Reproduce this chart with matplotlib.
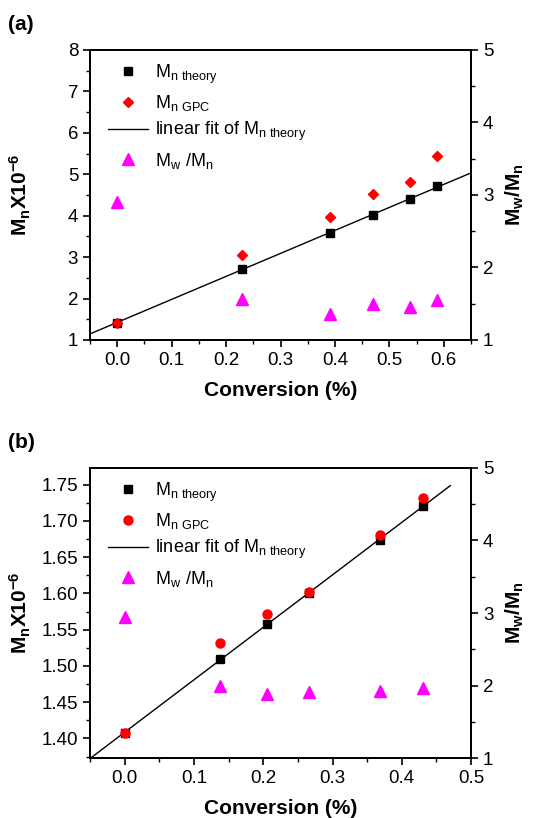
#!/usr/bin/env python3
"""Mn / PDI vs conversion, two panels (a) and (b)."""

import matplotlib
matplotlib.use("Agg")
import matplotlib.pyplot as plt
import numpy as np
from matplotlib.ticker import MultipleLocator

plt.rcParams["font.family"] = ["Liberation Sans", "DejaVu Sans"]
plt.rcParams["mathtext.fontset"] = "custom"
plt.rcParams["mathtext.rm"] = "Liberation Sans"
plt.rcParams["mathtext.bf"] = "Liberation Sans:bold"

# panel (a)
conv_a = [0.0, 0.23, 0.39, 0.47, 0.538, 0.588]
mn_theory_a = [1.42, 2.72, 3.58, 4.02, 4.40, 4.71]
mn_gpc_a = [1.42, 3.05, 3.96, 4.52, 4.82, 5.44]
pdi_a = [2.90, 1.56, 1.36, 1.49, 1.45, 1.55]

# panel (b)
conv_b = [0.0, 0.138, 0.206, 0.266, 0.368, 0.43]
mn_theory_b = [1.408, 1.509, 1.558, 1.601, 1.674, 1.720]
mn_gpc_b = [1.407, 1.531, 1.571, 1.602, 1.680, 1.731]
pdi_b = [2.95, 1.99, 1.88, 1.91, 1.92, 1.96]

LEG = [r"$\mathregular{M_{n\ theory}}$", r"$\mathregular{M_{n\ GPC}}$",
       r"linear fit of $\mathregular{M_{n\ theory}}$",
       r"$\mathregular{M_{w}\ /M_{n}}$"]


def style(ax):
    for s in ax.spines.values():
        s.set_linewidth(1.4)
    ax.tick_params(which="major", direction="out", length=5, width=1.2, labelsize=13.5)
    ax.tick_params(which="minor", direction="out", length=3, width=1.0)


def panel(fig, rect, x, mt, mg, pdi, xlim, ylim, xmaj, ymaj, ymin, fit_x, tag, gpc_marker, gpc_ms):
    ax = fig.add_axes(rect)
    ax2 = ax.twinx()
    ax.set_zorder(ax2.get_zorder() + 1)
    ax.patch.set_visible(False)

    k, b = np.polyfit(x, mt, 1)
    fx = np.array(fit_x)
    h_fit, = ax.plot(fx, k * fx + b, color="black", lw=1.0, label=LEG[2])
    h_th, = ax.plot(x, mt, ls="none", marker="s", ms=6, color="black", label=LEG[0])
    h_gpc, = ax.plot(x, mg, ls="none", marker=gpc_marker, ms=gpc_ms, color="red", mec="red", label=LEG[1])
    h_pdi, = ax2.plot(x, pdi, ls="none", marker="^", ms=8, color="magenta", label=LEG[3])

    ax.set_xlim(*xlim)
    ax.set_ylim(*ylim)
    ax2.set_ylim(1, 5)
    ax.xaxis.set_major_locator(MultipleLocator(xmaj))
    ax.xaxis.set_minor_locator(MultipleLocator(xmaj / 2))
    ax.yaxis.set_major_locator(MultipleLocator(ymaj))
    ax.yaxis.set_minor_locator(MultipleLocator(ymin))
    ax2.yaxis.set_major_locator(MultipleLocator(1))
    ax2.yaxis.set_minor_locator(MultipleLocator(0.5))
    style(ax)
    style(ax2)
    ax.tick_params(top=False, which="both")

    ax.set_xlabel("Conversion (%)", fontsize=15, fontweight="bold", labelpad=9)
    ax.set_ylabel(r"$\mathbf{M_nX10^{-6}}$", fontsize=15)
    ax.yaxis.set_label_coords(-0.15, 0.5)
    ax2.set_ylabel(r"$\mathbf{M_w/M_n}$", fontsize=15)
    ax2.yaxis.set_label_coords(1.085, 0.5)

    ax.legend([h_th, h_gpc, h_fit, h_pdi], LEG, loc="upper left", frameon=False,
              fontsize=13, handlelength=2.2, handletextpad=0.4, labelspacing=0.4,
              borderaxespad=0.3, bbox_to_anchor=(0.015, 1.0))
    fig.text(0.015, rect[1] + rect[3] + 0.025, tag, fontsize=15, fontweight="bold")
    return ax


fig = plt.figure(figsize=(5.39, 8.18), dpi=100)
panel(fig, [0.167, 0.5844, 0.707, 0.3545], conv_a, mn_theory_a, mn_gpc_a, pdi_a,
      (-0.05, 0.65), (1, 8), 0.1, 1, 0.5, [-0.05, 0.65], "(a)", "D", 5.5)
panel(fig, [0.167, 0.0733, 0.707, 0.3546], conv_b, mn_theory_b, mn_gpc_b, pdi_b,
      (-0.05, 0.5), (1.373, 1.773), 0.1, 0.05, 0.025, [-0.05, 0.47], "(b)", "o", 6.5)

fig.savefig("out.png", dpi=100)
